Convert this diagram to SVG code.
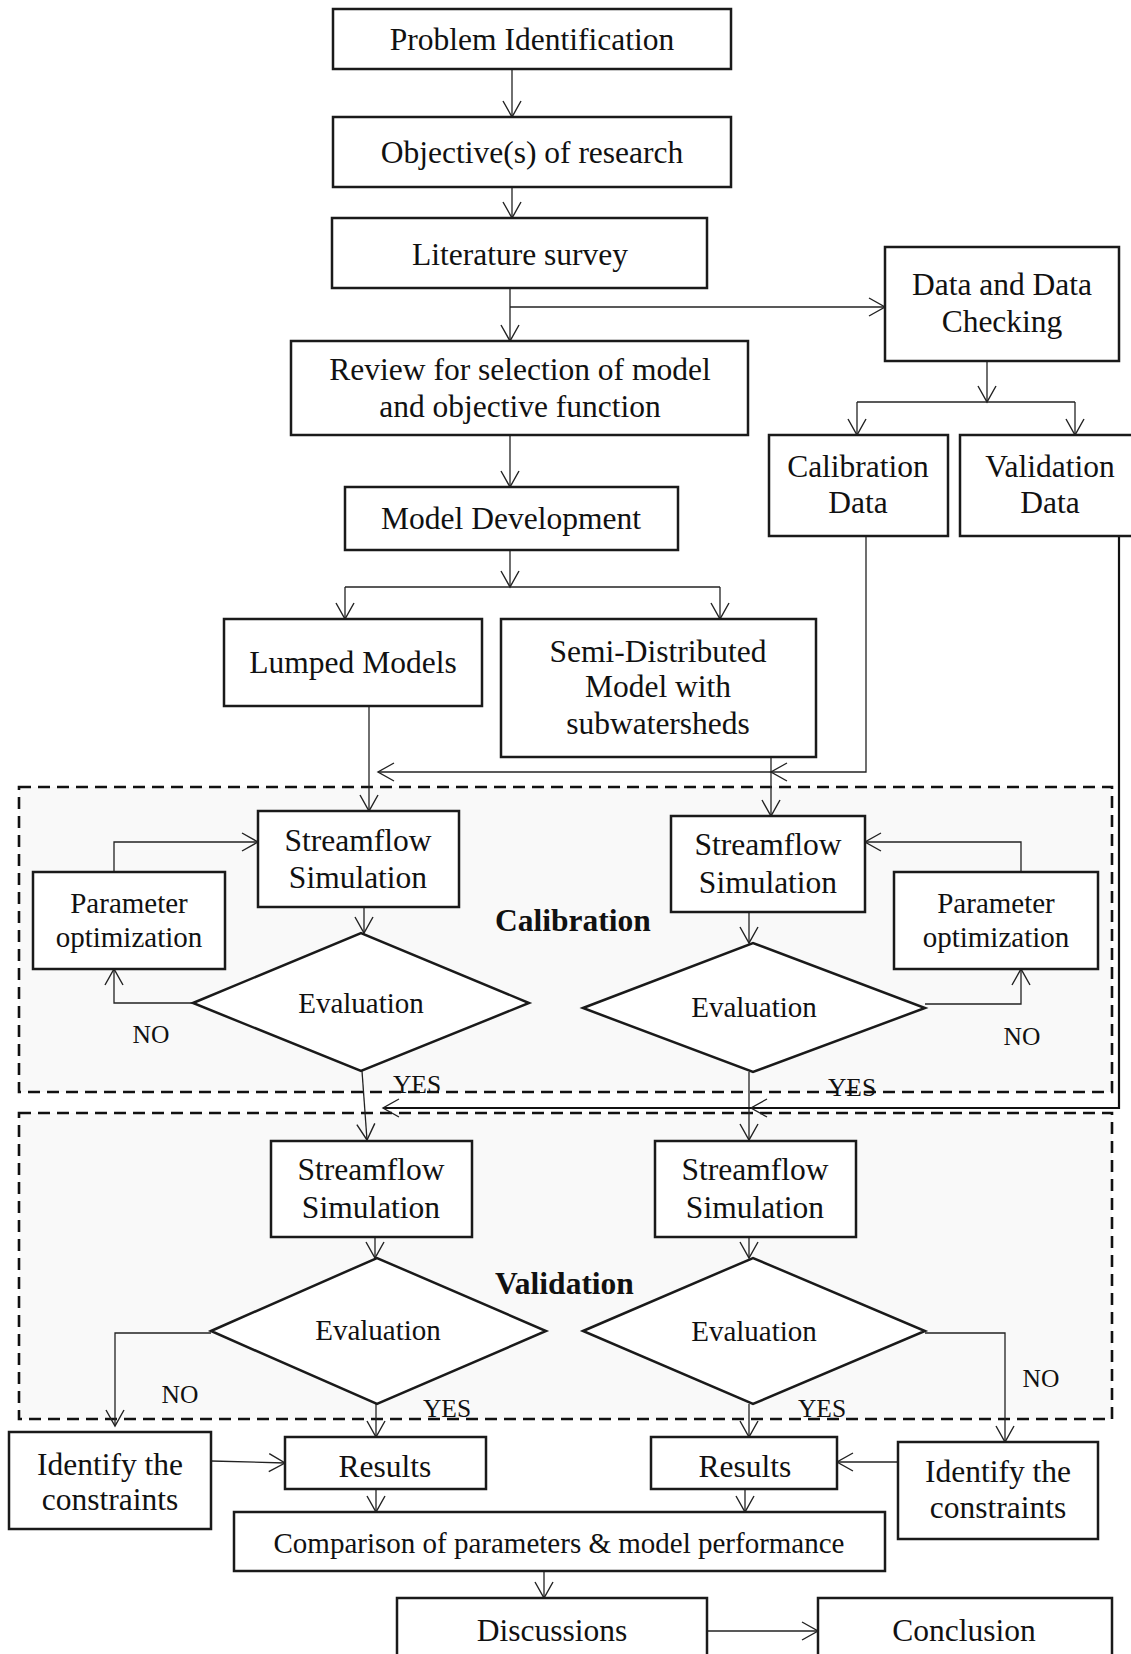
<svg xmlns="http://www.w3.org/2000/svg" width="1131" height="1654" viewBox="0 0 1131 1654">
<style>
.b{fill:#fff;stroke:#1a1a1a;stroke-width:2.5}
.d{fill:#fff;stroke:#1a1a1a;stroke-width:2.5}
.c{fill:none;stroke:#222;stroke-width:1.3}
.ct{fill:none;stroke:#111;stroke-width:2.2}
.g{fill:#f9f9f9;stroke:#111;stroke-width:2.6;stroke-dasharray:12 7}
text{font-family:"Liberation Serif","Times New Roman",serif;fill:#111;text-anchor:middle}
.t{font-size:31.5px}
.s{font-size:29px}
.l{font-size:25.5px}
.k{font-size:31.5px;font-weight:bold;text-anchor:start}
</style>
<defs>
<marker id="a" markerWidth="20" markerHeight="20" refX="16" refY="9" orient="auto" markerUnits="userSpaceOnUse" viewBox="0 0 20 20" overflow="visible">
<path d="M0,0 L16,9 L0,18" fill="none" stroke="#222" stroke-width="1.4"/>
</marker>
</defs>
<rect width="1131" height="1654" fill="#fff"/>
<g id="calibration-region">
<rect class="g" x="19" y="787" width="1093" height="305"/>
<text class="k" x="495" y="931">Calibration</text>
</g>
<g id="validation-region">
<rect class="g" x="19" y="1113" width="1093" height="306"/>
<text class="k" x="495" y="1294">Validation</text>
</g>
<g id="connectors">
<line class="c" x1="512" y1="69" x2="512" y2="117" marker-end="url(#a)"/>
<line class="c" x1="512" y1="187" x2="512" y2="218" marker-end="url(#a)"/>
<line class="c" x1="510" y1="288" x2="510" y2="341" marker-end="url(#a)"/>
<line class="c" x1="510" y1="307" x2="885" y2="307" marker-end="url(#a)"/>
<line class="c" x1="510" y1="435" x2="510" y2="487" marker-end="url(#a)"/>
<line class="c" x1="987" y1="361" x2="987" y2="402" marker-end="url(#a)"/>
<polyline class="c" points="857,402 1075,402"/>
<line class="c" x1="857" y1="402" x2="857" y2="435" marker-end="url(#a)"/>
<line class="c" x1="1075" y1="402" x2="1075" y2="435" marker-end="url(#a)"/>
<line class="c" x1="510" y1="550" x2="510" y2="587" marker-end="url(#a)"/>
<polyline class="c" points="345,587 720,587"/>
<line class="c" x1="345" y1="587" x2="345" y2="619" marker-end="url(#a)"/>
<line class="c" x1="720" y1="587" x2="720" y2="619" marker-end="url(#a)"/>
<line class="c" x1="369" y1="706" x2="369" y2="811" marker-end="url(#a)"/>
<line class="c" x1="771" y1="757" x2="771" y2="816" marker-end="url(#a)"/>
<polyline class="c" points="866,536 866,772 771,772" marker-end="url(#a)"/>
<line class="c" x1="771" y1="772" x2="378" y2="772" marker-end="url(#a)"/>
<line class="c" x1="364" y1="907" x2="364" y2="933" marker-end="url(#a)"/>
<line class="c" x1="749" y1="912" x2="749" y2="943" marker-end="url(#a)"/>
<polyline class="c" points="114,872 114,842 258,842" marker-end="url(#a)"/>
<polyline class="c" points="193,1003 114,1003 114,969" marker-end="url(#a)"/>
<polyline class="c" points="1021,872 1021,842 865,842" marker-end="url(#a)"/>
<polyline class="c" points="925,1004 1021,1004 1021,969" marker-end="url(#a)"/>
<line class="c" x1="362" y1="1071" x2="367" y2="1140" marker-end="url(#a)"/>
<line class="c" x1="749" y1="1072" x2="749" y2="1140" marker-end="url(#a)"/>
<polyline class="ct" points="1119,536 1119,1108 751,1108" marker-end="url(#a)"/>
<line class="ct" x1="751" y1="1108" x2="383" y2="1108" marker-end="url(#a)"/>
<line class="c" x1="375" y1="1237" x2="375" y2="1258" marker-end="url(#a)"/>
<line class="c" x1="749" y1="1237" x2="749" y2="1258" marker-end="url(#a)"/>
<polyline class="c" points="211,1333 115,1333 115,1426" marker-end="url(#a)"/>
<line class="c" x1="376" y1="1404" x2="376" y2="1437" marker-end="url(#a)"/>
<polyline class="c" points="925,1333 1005,1333 1005,1442" marker-end="url(#a)"/>
<line class="c" x1="749" y1="1404" x2="749" y2="1437" marker-end="url(#a)"/>
<line class="c" x1="211" y1="1461" x2="285" y2="1463" marker-end="url(#a)"/>
<line class="c" x1="898" y1="1462" x2="837" y2="1462" marker-end="url(#a)"/>
<line class="c" x1="376" y1="1489" x2="376" y2="1512" marker-end="url(#a)"/>
<line class="c" x1="745" y1="1489" x2="745" y2="1512" marker-end="url(#a)"/>
<line class="c" x1="544" y1="1571" x2="544" y2="1598" marker-end="url(#a)"/>
<line class="c" x1="707" y1="1631" x2="818" y2="1631" marker-end="url(#a)"/>
</g>
<g id="problem"><rect class="b" x="333" y="9" width="398" height="60"/><text class="t" x="532" y="50">Problem Identification</text></g>
<g id="objective"><rect class="b" x="333" y="117" width="398" height="70"/><text class="t" x="532" y="163">Objective(s) of research</text></g>
<g id="literature"><rect class="b" x="332" y="218" width="375" height="70"/><text class="t" x="520" y="265">Literature survey</text></g>
<g id="review"><rect class="b" x="291" y="341" width="457" height="94"/><text class="t" x="520" y="380">Review for selection of model</text><text class="t" x="520" y="417">and objective function</text></g>
<g id="data-checking"><rect class="b" x="885" y="247" width="234" height="114"/><text class="t" x="1002" y="295">Data and Data</text><text class="t" x="1002" y="332">Checking</text></g>
<g id="calibration-data"><rect class="b" x="769" y="435" width="179" height="101"/><text class="t" x="858" y="477">Calibration</text><text class="t" x="858" y="513">Data</text></g>
<g id="validation-data"><rect class="b" x="960" y="435" width="180" height="101"/><text class="t" x="1050" y="477">Validation</text><text class="t" x="1050" y="513">Data</text></g>
<g id="model-development"><rect class="b" x="345" y="487" width="333" height="63"/><text class="t" x="511" y="529">Model Development</text></g>
<g id="lumped"><rect class="b" x="224" y="619" width="258" height="87"/><text class="t" x="353" y="673">Lumped Models</text></g>
<g id="semi"><rect class="b" x="501" y="619" width="315" height="138"/><text class="t" x="658" y="662">Semi-Distributed</text><text class="t" x="658" y="697">Model with</text><text class="t" x="658" y="734">subwatersheds</text></g>
<g id="cal-sim-left"><rect class="b" x="258" y="811" width="201" height="96"/><text class="t" x="358" y="851">Streamflow</text><text class="t" x="358" y="888">Simulation</text></g>
<g id="cal-opt-left"><rect class="b" x="33" y="872" width="192" height="97"/><text class="s" x="129" y="913">Parameter</text><text class="s" x="129" y="947">optimization</text></g>
<g id="cal-eval-left"><polygon class="d" points="193,1003 361,933 529,1003 361,1071"/><text class="s" x="361" y="1013">Evaluation</text></g>
<g id="cal-sim-right"><rect class="b" x="671" y="816" width="194" height="96"/><text class="t" x="768" y="855">Streamflow</text><text class="t" x="768" y="893">Simulation</text></g>
<g id="cal-opt-right"><rect class="b" x="894" y="872" width="204" height="97"/><text class="s" x="996" y="913">Parameter</text><text class="s" x="996" y="947">optimization</text></g>
<g id="cal-eval-right"><polygon class="d" points="583,1008 753,943 925,1008 753,1072"/><text class="s" x="754" y="1017">Evaluation</text></g>
<g id="labels-cal"><text class="l" x="151" y="1043">NO</text><text class="l" x="1022" y="1045">NO</text><text class="l" x="417" y="1093">YES</text><text class="l" x="852" y="1096">YES</text></g>
<g id="val-sim-left"><rect class="b" x="271" y="1141" width="201" height="96"/><text class="t" x="371" y="1180">Streamflow</text><text class="t" x="371" y="1218">Simulation</text></g>
<g id="val-eval-left"><polygon class="d" points="211,1331 377,1258 546,1331 377,1404"/><text class="s" x="378" y="1340">Evaluation</text></g>
<g id="val-sim-right"><rect class="b" x="655" y="1141" width="201" height="96"/><text class="t" x="755" y="1180">Streamflow</text><text class="t" x="755" y="1218">Simulation</text></g>
<g id="val-eval-right"><polygon class="d" points="583,1331 753,1258 925,1331 753,1404"/><text class="s" x="754" y="1341">Evaluation</text></g>
<g id="labels-val"><text class="l" x="180" y="1403">NO</text><text class="l" x="447" y="1417">YES</text><text class="l" x="1041" y="1387">NO</text><text class="l" x="822" y="1417">YES</text></g>
<g id="identify-left"><rect class="b" x="9" y="1432" width="202" height="97"/><text class="t" x="110" y="1475">Identify the</text><text class="t" x="110" y="1510">constraints</text></g>
<g id="results-left"><rect class="b" x="285" y="1437" width="201" height="52"/><text class="t" x="385" y="1477">Results</text></g>
<g id="results-right"><rect class="b" x="651" y="1437" width="186" height="52"/><text class="t" x="745" y="1477">Results</text></g>
<g id="identify-right"><rect class="b" x="898" y="1442" width="200" height="97"/><text class="t" x="998" y="1482">Identify the</text><text class="t" x="998" y="1518">constraints</text></g>
<g id="comparison"><rect class="b" x="234" y="1512" width="651" height="59"/><text class="s" x="559" y="1553">Comparison of parameters &amp; model performance</text></g>
<g id="discussions"><rect class="b" x="397" y="1598" width="310" height="70"/><text class="t" x="552" y="1641">Discussions</text></g>
<g id="conclusion"><rect class="b" x="818" y="1598" width="294" height="70"/><text class="t" x="964" y="1641">Conclusion</text></g>
</svg>
